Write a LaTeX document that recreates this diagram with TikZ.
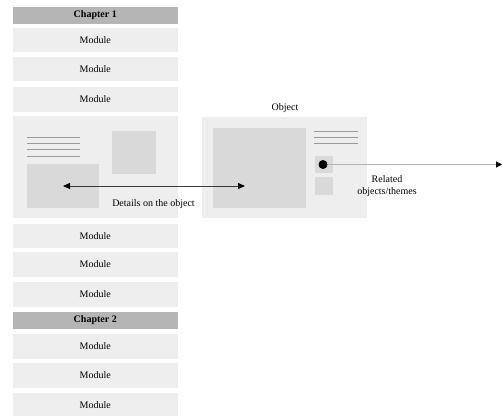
\documentclass[tikz,border=0pt]{standalone}
\usepackage{fontspec}
\setmainfont{Liberation Serif}
\usetikzlibrary{arrows.meta}
\definecolor{panelgray}{HTML}{EEEEEE}
\definecolor{innergray}{HTML}{D9D9D9}
\definecolor{chapgray}{HTML}{B5B5B5}
\definecolor{linegray}{HTML}{9A9A9A}
\definecolor{arrowgray}{HTML}{3A3A3A}
\definecolor{lightline}{HTML}{B5B5B5}
\begin{document}
\begin{tikzpicture}[x=1pt,y=-1pt,
  txt/.style={font=\fontsize{10}{12}\selectfont, text=black, inner sep=0pt},
  modbox/.style={txt, fill=panelgray, minimum width=165.5pt, minimum height=24pt, anchor=center},
  chapbox/.style={modbox, fill=chapgray, minimum height=17pt, font=\fontsize{10}{12}\selectfont\bfseries},
  panel/.style={fill=panelgray},
  inner/.style={fill=innergray},
  rule/.style={draw=linegray, line width=1pt}
]
\useasboundingbox (0,0) rectangle (502,415);
\fill[white] (0,0) rectangle (502,415);

% left column
\node[chapbox] (ch1) at (95.25,15.5) {Chapter 1};
\node[modbox] (m1) at (95.25,40) {Module};
\node[modbox] (m2) at (95.25,69) {Module};
\node[modbox, minimum height=25pt] (m3) at (95.25,99.5) {Module};
\node[panel, minimum width=165.5pt, minimum height=102pt, inner sep=0pt] (lp) at (95.25,167) {};
\node[modbox] (m4) at (95.25,236) {Module};
\node[modbox, minimum height=25pt] (m5) at (95.25,264.5) {Module};
\node[modbox, minimum height=25pt] (m6) at (95.25,294.5) {Module};
\node[chapbox] (ch2) at (95.25,320.5) {Chapter 2};
\node[modbox, minimum height=25pt] (m7) at (95.25,346.5) {Module};
\node[modbox, minimum height=25pt] (m8) at (95.25,375.5) {Module};
\node[modbox, minimum height=25pt] (m9) at (95.25,405.5) {Module};

% left panel contents
\foreach \yy in {137,143,149,156} \draw[rule] (27,\yy) -- (80,\yy);
\fill[inner] (112,131) rectangle (156,174);
\fill[inner] (27,164) rectangle (99,208);

% object panel
\node[txt] (objlabel) at (285,108) {Object};
\node[panel, minimum width=165pt, minimum height=101pt, inner sep=0pt] (op) at (284.5,167.5) {};
\fill[inner] (213,128) rectangle (306,208);
\foreach \yy in {131,137,143} \draw[rule] (314,\yy) -- (358,\yy);
\fill[inner] (315,156) rectangle (333,173);
\fill[inner] (315,177) rectangle (333,195);
\node[circle, fill=black, minimum size=9pt, inner sep=0pt] (dot) at (323,164.5) {};

% connectors
\coordinate (dl) at (63,186);
\coordinate (dr) at (245,186);
\coordinate (rel) at (502,164.5);
\draw[arrowgray, line width=1pt, {Triangle[length=7pt,width=6pt,fill=black,color=black]}-{Triangle[length=7pt,width=6pt,fill=black,color=black]}] (dl) -- (dr);
\draw[lightline, line width=1.1pt, -{Triangle[length=6pt,width=6pt,fill=black,color=black]}] (dot) -- (rel);

% labels
\node[txt] (details) at (153.5,204) {Details on the object};
\node[txt, align=center] (related) at (387,186) {Related\\objects/themes};
\end{tikzpicture}
\end{document}
